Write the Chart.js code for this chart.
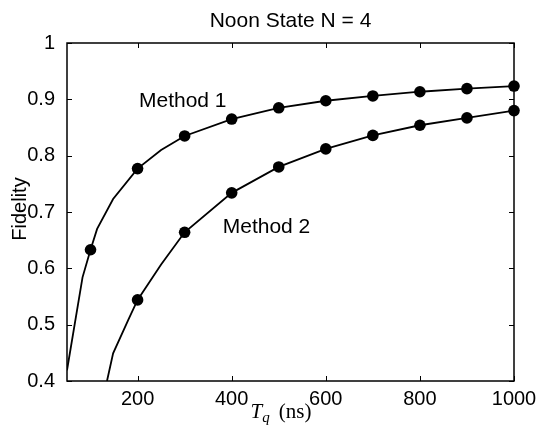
<!DOCTYPE html>
<html>
<head>
<meta charset="utf-8">
<script src="https://cdn.jsdelivr.net/npm/chart.js@4.4.1/dist/chart.umd.min.js"></script>
<style>
  html,body{margin:0;padding:0;background:#fff;}
  #wrap{width:539px;height:430px;}
</style>
</head>
<body>
<div id="wrap"><canvas id="chart" width="539" height="430"></canvas></div>
<script>
// --- values ---
const TITLE = 'Noon State N = 4';
const xTicks = [200, 400, 600, 800, 1000];
const yTicks = [0.4, 0.5, 0.6, 0.7, 0.8, 0.9, 1];

// markers (every 100 ns)
const m1MarkX = [100, 200, 300, 400, 500, 600, 700, 800, 900, 1000];
const m1MarkY = [0.633, 0.777, 0.835, 0.865, 0.885, 0.8975, 0.906, 0.9135, 0.919, 0.9236];
const m2MarkX = [200, 300, 400, 500, 600, 700, 800, 900, 1000];
const m2MarkY = [0.544, 0.664, 0.734, 0.780, 0.812, 0.836, 0.854, 0.867, 0.880];

// the solid curves (a few extra kinks near the start)
const m1LineX = [50, 83, 100, 114, 148, 200, 250, 300, 400, 500, 600, 700, 800, 900, 1000];
const m1LineY = [0.419, 0.584, 0.633, 0.670, 0.723, 0.777, 0.810, 0.835, 0.865, 0.885, 0.8975, 0.906, 0.9135, 0.919, 0.9236];
const m2LineX = [135, 148, 180, 200, 250, 300, 400, 500, 600, 700, 800, 900, 1000];
const m2LineY = [0.400, 0.449, 0.508, 0.544, 0.607, 0.664, 0.734, 0.780, 0.812, 0.836, 0.854, 0.867, 0.880];

const LABELS = [
  {text: 'Method 1', x: 203, y: 0.886},
  {text: 'Method 2', x: 381, y: 0.662}
];

const SANS = '"Liberation Sans", Arial, Helvetica, sans-serif';
const SERIF = '"Liberation Serif", "Times New Roman", serif';

function pts(xs, ys){ return xs.map((x,i)=>({x:x, y:ys[i]})); }

// box with inward ticks on all four sides (matlab style)
const framePlugin = {
  id: 'frame',
  beforeDatasetsDraw(chart){
    const {ctx, chartArea:a, scales} = chart;
    ctx.save();
    ctx.strokeStyle = '#000';
    ctx.lineWidth = 1.5;
    ctx.strokeRect(a.left, a.top, a.right-a.left, a.bottom-a.top);
    ctx.lineWidth = 1;
    const len = 5;
    ctx.beginPath();
    xTicks.forEach(v=>{
      const px = Math.round(scales.x.getPixelForValue(v))+0.5;
      ctx.moveTo(px, a.bottom); ctx.lineTo(px, a.bottom-len);
      ctx.moveTo(px, a.top); ctx.lineTo(px, a.top+len);
    });
    yTicks.forEach(v=>{
      const py = Math.round(scales.y.getPixelForValue(v))+0.5;
      ctx.moveTo(a.left, py); ctx.lineTo(a.left+len, py);
      ctx.moveTo(a.right, py); ctx.lineTo(a.right-len, py);
    });
    ctx.stroke();
    ctx.restore();
  },
  afterDraw(chart){
    const {ctx, chartArea:a, scales} = chart;
    ctx.save();
    ctx.fillStyle = '#000';
    // title
    ctx.font = '21px ' + SANS;
    ctx.textAlign = 'center';
    ctx.textBaseline = 'alphabetic';
    ctx.fillText(TITLE, (a.left+a.right)/2, 27);
    // curve labels
    ctx.textAlign = 'left';
    LABELS.forEach(l=>{
      ctx.fillText(l.text, scales.x.getPixelForValue(l.x), scales.y.getPixelForValue(l.y));
    });
    // x axis title: T_q (ns)
    const big = 'italic 21px ' + SERIF, sub = 'italic 15px ' + SERIF, rest = '21px ' + SERIF;
    ctx.font = big; const wT = ctx.measureText('T').width;
    ctx.font = sub; const wq = ctx.measureText('q').width;
    ctx.font = rest; const wr = ctx.measureText('(ns)').width;
    const gap = 9;
    const total = wT + wq + gap + wr;
    let x0 = 281 - total/2;
    const base = 418;
    ctx.font = big; ctx.fillText('T', x0, base); x0 += wT;
    ctx.font = sub; ctx.fillText('q', x0, base+4); x0 += wq + gap;
    ctx.font = rest; ctx.fillText('(ns)', x0, base);
    // y axis title
    ctx.translate(20, (a.top+a.bottom)/2 - 3);
    ctx.rotate(-Math.PI/2);
    ctx.font = '20px ' + SANS;
    ctx.textAlign = 'center';
    ctx.textBaseline = 'middle';
    ctx.fillText('Fidelity', 0, 0);
    ctx.restore();
  }
};

new Chart(document.getElementById('chart'), {
  type: 'scatter',
  data: {
    datasets: [
      {label:'Method 1 curve', data: pts(m1LineX, m1LineY), showLine:true, pointRadius:0, borderColor:'#000', borderWidth:1.8, tension:0},
      {label:'Method 2 curve', data: pts(m2LineX, m2LineY), showLine:true, pointRadius:0, borderColor:'#000', borderWidth:1.8, tension:0},
      {label:'Method 1', data: pts(m1MarkX, m1MarkY), pointRadius:5.8, backgroundColor:'#000', borderColor:'#000', borderWidth:0, clip:false},
      {label:'Method 2', data: pts(m2MarkX, m2MarkY), pointRadius:5.8, backgroundColor:'#000', borderColor:'#000', borderWidth:0, clip:false}
    ]
  },
  options: {
    responsive: false,
    animation: false,
    devicePixelRatio: 1,
    layout: {padding: {top:43, right:25, left:0, bottom:0}},
    plugins: {legend:{display:false}, tooltip:{enabled:false}},
    scales: {
      x: {
        type:'linear', min:50, max:1000,
        afterBuildTicks: s => { s.ticks = xTicks.map(v=>({value:v})); },
        afterFit: s => { s.height = 49; },
        grid:{display:false}, border:{display:false},
        ticks:{color:'#000', font:{family:SANS, size:20}, padding:-2, maxRotation:0, callback: v => String(v)}
      },
      y: {
        min:0.4, max:1,
        afterBuildTicks: s => { s.ticks = yTicks.map(v=>({value:v})); },
        afterFit: s => { s.width = 67; },
        grid:{display:false}, border:{display:false},
        ticks:{color:'#000', font:{family:SANS, size:20}, padding:4, callback: v => v===1 ? '1' : v.toFixed(1)}
      }
    }
  },
  plugins: [framePlugin]
});
</script>
</body>
</html>
